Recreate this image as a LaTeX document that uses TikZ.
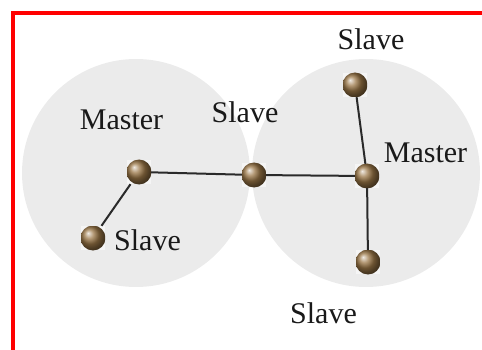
\documentclass[tikz,border=0pt]{standalone}
\usepackage{fontspec}
\setmainfont{Liberation Serif}
\usetikzlibrary{backgrounds}
\definecolor{zone}{HTML}{EBEBEB}
\definecolor{bronze}{HTML}{9A7646}
\definecolor{linkcol}{HTML}{2A2A2A}
\tikzset{
  zonecircle/.style={fill=zone, draw=none},
  ballnode/.style={rectangle, minimum size=24pt, inner sep=0pt, fill=white, fill opacity=0.55,
    path picture={\shade[ball color=bronze, fill opacity=1] (path picture bounding box.center) circle (12.5pt);}},
  link/.style={draw=linkcol, line width=2pt},
  lbl/.style={font=\fontsize{30}{32}\selectfont, text=black!90, anchor=base, inner sep=0pt},
  frame/.style={draw=red, line width=4pt}
}
\begin{document}
\begin{tikzpicture}[x=1pt, y=-1pt]
\useasboundingbox (0,0) rectangle (482,350);
% zones
\fill[zonecircle] (136,173) circle (114);
\fill[zonecircle] (366,173) circle (114);
% frame
\draw[frame] (13,350) -- (13,13) -- (482,13);
% balls
\node[ballnode] (m1) at (139,172) {};
\node[ballnode] (s1) at (93,238) {};
\node[ballnode] (s2) at (254,175) {};
\node[ballnode] (m2) at (367,176) {};
\node[ballnode] (s3) at (355,85) {};
\node[ballnode] (s4) at (368,262) {};
% links
\draw[link] (m1) -- (s1);
\draw[link] (m1) -- (s2);
\draw[link] (s2) -- (m2);
\draw[link] (s3) -- (m2);
\draw[link] (m2) -- (s4);
% labels
\node[lbl] (t1) at (121.5,130) {Master};
\node[lbl] (t2) at (147.5,250) {Slave};
\node[lbl] (t3) at (245,123) {Slave};
\node[lbl] (t4) at (371,50) {Slave};
\node[lbl] (t5) at (425.5,163) {Master};
\node[lbl] (t6) at (323.5,323) {Slave};
\end{tikzpicture}
\end{document}
